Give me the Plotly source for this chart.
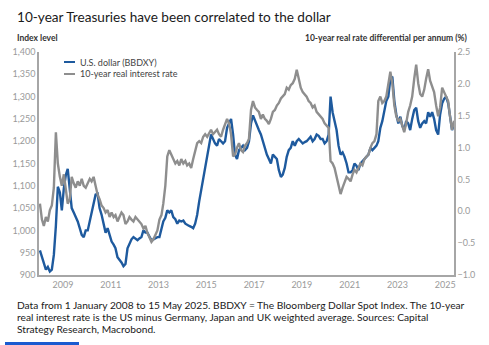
import plotly.graph_objects as go

# Monthly readings, Jan 2008 - May 2025
months = [f"{y}-{m:02d}-15" for y in range(2008, 2026) for m in range(1, 13)][:209]

# U.S. dollar (BBDXY), index level
dollar = [
    955, 942, 925, 912, 918, 908, 912, 945, 1010, 1098, 1085, 1045,   # 2008
    1095, 1125, 1138, 1085, 1050, 1040, 1030, 1020, 1005, 990, 985, 1000,  # 2009
    1000, 1020, 1035, 1055, 1080, 1082, 1050, 1035, 1015, 995, 1005, 990,  # 2010
    975, 968, 960, 940, 935, 928, 920, 925, 960, 972, 980, 985,   # 2011
    982, 978, 982, 985, 1000, 995, 995, 985, 978, 980, 982, 985,  # 2012
    985, 1005, 1020, 1028, 1045, 1040, 1045, 1030, 1025, 1015, 1022, 1020,  # 2013
    1022, 1015, 1012, 1010, 1008, 1005, 1015, 1035, 1065, 1090, 1115, 1140,  # 2014
    1165, 1185, 1215, 1205, 1195, 1190, 1205, 1200, 1195, 1200, 1230, 1240,  # 2015
    1250, 1215, 1170, 1160, 1180, 1185, 1190, 1180, 1185, 1200, 1240, 1258,  # 2016
    1245, 1235, 1225, 1215, 1200, 1185, 1170, 1160, 1150, 1170, 1165, 1160,  # 2017
    1135, 1120, 1125, 1140, 1165, 1180, 1185, 1200, 1190, 1200, 1205, 1200,  # 2018
    1195, 1198, 1200, 1205, 1210, 1200, 1205, 1215, 1212, 1205, 1205, 1195,  # 2019
    1200, 1215, 1300, 1265, 1245, 1225, 1190, 1170, 1175, 1165, 1150, 1130,  # 2020
    1130, 1135, 1150, 1145, 1135, 1150, 1155, 1160, 1165, 1170, 1185, 1180,  # 2021
    1185, 1190, 1200, 1230, 1245, 1265, 1290, 1300, 1340, 1345, 1290, 1260,  # 2022
    1240, 1255, 1235, 1225, 1245, 1240, 1225, 1250, 1270, 1275, 1245, 1230,  # 2023
    1240, 1245, 1240, 1265, 1255, 1265, 1250, 1225, 1215, 1260, 1285, 1295,  # 2024
    1300, 1285, 1255, 1225, 1238,                                           # 2025
]

# 10-year real interest rate differential, % per annum
real_rate = [
    0.12, -0.13, -0.23, -0.09, -0.16, 0.02, 0.09, 0.37, 1.24, 0.75, 0.54, 0.40,   # 2008
    0.58, 0.37, 0.12, 0.19, 0.54, 0.44, 0.37, 0.47, 0.40, 0.51, 0.40, 0.37,       # 2009
    0.44, 0.51, 0.47, 0.54, 0.40, 0.26, 0.19, 0.09, 0.05, -0.02, 0.02, -0.09,     # 2010
    -0.02, -0.09, -0.06, -0.16, -0.09, -0.02, -0.06, -0.20, -0.16, -0.09, -0.13, -0.16,  # 2011
    -0.09, -0.13, -0.16, -0.20, -0.27, -0.23, -0.34, -0.41, -0.48, -0.44, -0.37, -0.30,  # 2012
    -0.13, -0.06, 0.12, 0.40, 0.86, 0.96, 0.89, 0.82, 0.75, 0.79, 0.72, 0.82,     # 2013
    0.75, 0.79, 0.72, 0.75, 0.68, 0.82, 0.96, 1.07, 1.10, 1.07, 1.17, 1.21,       # 2014
    1.17, 1.24, 1.28, 1.21, 1.24, 1.28, 1.21, 1.17, 1.28, 1.35, 1.45, 1.38,       # 2015
    1.21, 0.86, 0.89, 1.00, 1.07, 0.96, 0.93, 1.03, 1.07, 1.14, 1.59, 1.73,       # 2016
    1.63, 1.59, 1.56, 1.45, 1.52, 1.45, 1.42, 1.37, 1.45, 1.56, 1.59, 1.66,       # 2017
    1.70, 1.77, 1.80, 1.84, 1.94, 1.91, 1.98, 2.01, 2.08, 2.22, 2.08, 1.94,       # 2018
    1.87, 1.84, 1.80, 1.73, 1.70, 1.63, 1.66, 1.56, 1.52, 1.49, 1.45, 1.38,       # 2019
    1.35, 1.31, 0.79, 0.75, 0.68, 0.54, 0.40, 0.27, 0.37, 0.47, 0.54, 0.51,       # 2020
    0.47, 0.58, 0.65, 0.61, 0.68, 0.75, 0.72, 0.82, 0.86, 0.89, 1.00, 1.07,       # 2021
    1.10, 1.21, 1.73, 1.80, 1.70, 1.73, 1.80, 2.01, 2.19, 2.01, 1.66, 1.49,       # 2022
    1.42, 1.45, 1.35, 1.24, 1.38, 1.56, 1.66, 1.80, 2.08, 2.30, 2.01, 1.84,       # 2023
    1.80, 1.91, 2.08, 2.23, 2.05, 1.94, 1.87, 1.66, 1.49, 1.63, 1.94, 1.87,       # 2024
    1.80, 1.73, 1.49, 1.28, 1.42,                                                 # 2025
]

tick_years = ["2009", "2011", "2013", "2015", "2017", "2019", "2021", "2023", "2025"]
left_ticks = list(range(900, 1401, 50))
right_ticks = [-1.0, -0.5, 0.0, 0.5, 1.0, 1.5, 2.0, 2.5]

BLUE = "#1e5a9e"
GRAY = "#8e8e8e"
FONT = "Lato"
W, H = 489, 345
ML, MR, MT, MB = 39, 35, 52, 70
PW, PH = W - ML - MR, H - MT - MB


def px(x):
    return (x - ML) / PW


def py(y):
    return (H - MB - y) / PH


fig = go.Figure()
fig.add_trace(go.Scatter(x=months, y=real_rate, yaxis="y2", mode="lines",
                         line=dict(color=GRAY, width=2.4), name="10-year real interest rate"))
fig.add_trace(go.Scatter(x=months, y=dollar, mode="lines",
                         line=dict(color=BLUE, width=2.4), name="U.S. dollar (BBDXY)"))

axis_line = dict(showline=True, linecolor="#a6a6a6", linewidth=1.5, showgrid=False,
                 zeroline=False, ticks="", tickfont=dict(family=FONT, size=9, color="#9a9a9a"))

fig.update_layout(
    width=W, height=H,
    margin=dict(l=ML, r=MR, t=MT, b=MB),
    paper_bgcolor="white", plot_bgcolor="white",
    showlegend=False,
    xaxis=dict(type="date", range=["2008-01-01", "2025-05-15"],
               tickvals=[f"{y}-01-01" for y in tick_years], ticktext=tick_years,
               **axis_line),
    yaxis=dict(range=[900, 1400], tickvals=left_ticks, tickformat=",", **axis_line),
    yaxis2=dict(range=[-1.0, 2.5], tickvals=right_ticks, tickformat=".1f",
                overlaying="y", side="right", **axis_line),
)

ann = []
ann.append(dict(text="10-year Treasuries have been correlated to the dollar",
                x=px(15), y=py(17), xanchor="left", yanchor="middle",
                font=dict(family=FONT, size=13.6, color="#1a1a1a")))
ann.append(dict(text="<b>Index level</b>", x=px(15), y=py(38), xanchor="left", yanchor="middle",
                font=dict(family=FONT, size=8.5, color="#333333")))
ann.append(dict(text="<b>10-year real rate differential per annum (%)</b>", x=px(470), y=py(38),
                xanchor="right", yanchor="middle",
                font=dict(family=FONT, size=8.5, color="#333333")))
ann.append(dict(text="U.S. dollar (BBDXY)", x=px(78), y=py(62), xanchor="left", yanchor="middle",
                font=dict(family=FONT, size=9, color="#444444")))
ann.append(dict(text="10-year real interest rate", x=px(78), y=py(74), xanchor="left", yanchor="middle",
                font=dict(family=FONT, size=9, color="#444444")))
foot = ["Data from 1 January 2008 to 15 May 2025. BBDXY = The Bloomberg Dollar Spot Index. The 10-year",
        "real interest rate is the US minus Germany, Japan and UK weighted average. Sources: Capital",
        "Strategy Research, Macrobond."]
for i, line in enumerate(foot):
    ann.append(dict(text=line, x=px(15), y=py(305 + 12.2 * i), xanchor="left", yanchor="middle",
                    font=dict(family=FONT, size=10.2, color="#1a1a1a")))
for a in ann:
    a.update(xref="paper", yref="paper", showarrow=False)
fig.update_layout(annotations=ann)

shapes = [
    dict(type="line", x0=px(64), x1=px(75), y0=py(62), y1=py(62), line=dict(color=BLUE, width=2)),
    dict(type="line", x0=px(64), x1=px(75), y0=py(74), y1=py(74), line=dict(color=GRAY, width=2)),
    dict(type="rect", x0=px(5), x1=px(79), y0=py(345), y1=py(342), line=dict(width=0),
         fillcolor="#1a5bd0"),
]
for s in shapes:
    s.update(xref="paper", yref="paper")
fig.update_layout(shapes=shapes)

fig.write_html("out.html")
